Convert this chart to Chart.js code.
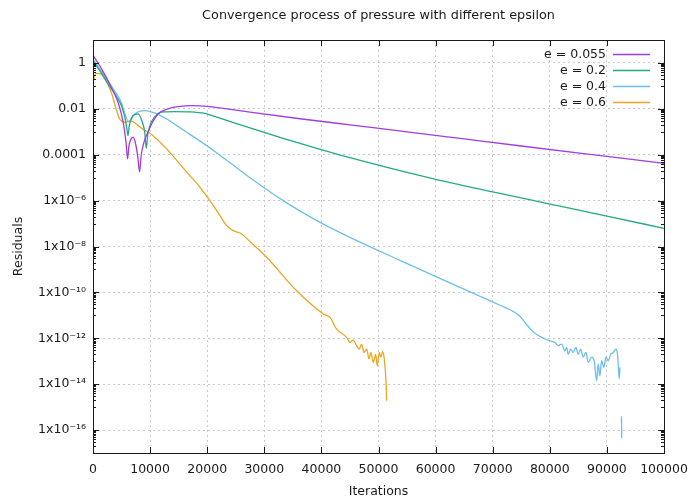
<!DOCTYPE html>
<html>
<head>
<meta charset="utf-8">
<title>Convergence process of pressure</title>
<script src="https://cdn.jsdelivr.net/npm/chart.js@4.4.1/dist/chart.umd.min.js"></script>
<style>
  html, body { margin: 0; padding: 0; background: #fff; }
</style>
</head>
<body>
<canvas id="residualChart" width="690" height="499"></canvas>
<script>
// residual history of the pressure solve for each epsilon
const chartTitle = 'Convergence process of pressure with different epsilon';
const seriesLabels = ['e = 0.055', 'e = 0.2', 'e = 0.4', 'e = 0.6'];
const seriesColors = ['#a13ddd', '#23a983', '#6cbfec', '#e9a622'];

const itersE055 = [0, 500, 1500, 3000, 4400, 5300, 5800, 6050, 6300, 6700, 7000, 7400, 7850, 8150, 8450, 9000, 9600,
  10500, 11400, 13100, 15000, 17000, 20500, 24000, 27500, 36250, 45000, 55000, 65000, 75000, 87500, 100000];
const resE055 = [2.2, 1.4, 0.55, 0.11, 1.9e-2, 2.5e-3, 3.2e-4, 6.6e-5, 2.5e-4, 5.0e-4, 5.8e-4, 3.5e-4, 7.9e-5, 1.8e-5, 1.0e-4, 4.0e-4, 9.3e-4,
  2.8e-3, 6.0e-3, 1.0e-2, 1.26e-2, 1.38e-2, 1.26e-2, 9.5e-3, 7.2e-3, 3.7e-3, 2.0e-3, 1.0e-3, 4.9e-4, 2.4e-4, 1.0e-4, 4.2e-5];

const itersE02 = [0, 800, 1750, 3000, 4200, 4960, 5600, 5950, 6130, 6350, 7000, 7900, 8600, 9050, 9330, 9600, 10200,
  11380, 12500, 14400, 17000, 19600, 21700, 27500, 33300, 39200, 45000, 52000, 60200, 70000, 80000, 90000, 100000];
const resE02 = [1.26, 0.63, 0.28, 8.9e-2, 3.2e-2, 1.4e-2, 4.0e-3, 1.26e-3, 6.8e-4, 1.8e-3, 5.0e-3, 6.0e-3, 2.8e-3, 1.0e-3, 1.9e-4, 7.9e-4, 2.6e-3,
  6.3e-3, 7.4e-3, 7.6e-3, 7.4e-3, 6.3e-3, 4.3e-3, 1.48e-3, 5.2e-4, 1.9e-4, 7.4e-5, 2.6e-5, 8.3e-6, 2.4e-6, 7.1e-7, 2.1e-7, 6.2e-8];

const itersE04 = [0, 1000, 2600, 4000, 4960, 5500, 6200, 6700, 7200, 8000, 9200, 10000, 11000, 12000, 13000, 14000, 15800,
  18700, 21700, 27500, 33300, 39200, 45000, 53760, 62500, 71270, 73900, 75000, 76000, 77100, 78500,
  80020, 80900, 81470, 82070, 82650, 82940, 83230, 83650, 84100, 84570, 84980, 85400, 85850, 86330, 86730, 87320,
  87780, 88200, 88480, 88780, 89070, 89480, 89830, 90230, 90650, 91110, 91580, 91810, 91980, 92160, 92280,
  92420, 92550, 92580, 92600];
const resE04 = [1.48, 0.63, 0.17, 5.0e-2, 1.9e-2, 7.1e-3, 2.8e-3, 3.5e-3, 5.6e-3, 7.6e-3, 8.3e-3, 7.6e-3, 6.3e-3, 4.8e-3, 3.5e-3, 2.4e-3, 1.2e-3,
  4.0e-4, 1.2e-4, 1.0e-5, 1.0e-6, 1.35e-7, 2.5e-8, 2.5e-9, 2.6e-10, 2.75e-11, 1.32e-11, 7.9e-12, 3.8e-12, 1.9e-12, 1.12e-12,
  7.8e-13, 6.6e-13, 4.8e-13, 5.6e-13, 2.8e-13, 4.0e-13, 2.0e-13, 3.4e-13, 2.4e-13, 4.0e-13, 2.0e-13, 3.4e-13, 1.5e-13, 2.4e-13, 8.9e-14, 1.5e-13,
  1.05e-13, 1.4e-14, 7.6e-14, 2.3e-14, 1.05e-13, 5.4e-14, 1.5e-13, 1.05e-13, 2.0e-13, 2.4e-13, 3.4e-13, 2.4e-13, 7.6e-14, 1.7e-14, 5.4e-14,
  null, 4.0e-16, 1.26e-16, 4.5e-17];

const itersE06 = [0, 120, 250, 600, 1450, 2300, 3200, 4000, 4680, 5550, 6700, 7880, 8800, 9980, 12900, 15810,
  18740, 20490, 22240, 23410, 24570, 26040, 27490, 30410, 35670, 40330, 41500, 42670, 44420,
  45000, 45580, 46170, 46630, 47050, 47450, 47930, 48330, 48680, 49080, 49500, 49780, 50130, 50430, 50730, 51010, 51310, 51430];
const resE06 = [0.40, 0.16, 0.28, 0.35, 0.32, 0.16, 5.2e-2, 1.1e-2, 3.6e-3, 2.6e-3, 3.0e-3, 1.9e-3, 1.26e-3, 8.7e-4, 1.8e-4, 2.6e-5,
  3.8e-6, 1.0e-6, 2.2e-7, 8.1e-8, 4.9e-8, 3.5e-8, 1.66e-8, 3.4e-9, 1.17e-10, 1.15e-11, 8.1e-12, 2.5e-12, 1.1e-12,
  6.6e-13, 8.3e-13, 4.8e-13, 3.4e-13, 5.6e-13, 2.4e-13, 3.4e-13, 1.26e-13, 2.4e-13, 8.9e-14, 2.0e-13, 6.3e-14, 2.4e-13, 1.5e-13, 2.7e-13, 1.26e-13, 1.4e-14, 1.9e-15];

const xTicks = [0, 10000, 20000, 30000, 40000, 50000, 60000, 70000, 80000, 90000, 100000];
const yTickExps = [0, -2, -4, -6, -8, -10, -12, -14, -16];

const allIters = [itersE055, itersE02, itersE04, itersE06];
const allRes = [resE055, resE02, resE04, resE06];

Chart.defaults.font.family = "'DejaVu Sans', sans-serif";
Chart.defaults.font.size = 12.5;
Chart.defaults.color = '#1a1a1a';

const supDigits = { '-': '\u207b', '0': '\u2070', '1': '\u00b9', '2': '\u00b2', '3': '\u00b3',
  '4': '\u2074', '5': '\u2075', '6': '\u2076', '7': '\u2077', '8': '\u2078', '9': '\u2079' };

function formatResidual(value) {
  const e = Math.round(Math.log10(value));
  if (e >= -4) return value.toFixed(-e > 0 ? -e : 0);
  return '1x10' + String(e).split('').map(c => supDigits[c]).join('');
}

// gnuplot style border with inward ticks on all four sides, title over the plot box
const framePlugin = {
  id: 'frame',
  afterDatasetsDraw(chart) {
    const { ctx, chartArea: a, scales: { x, y } } = chart;
    ctx.save();
    ctx.strokeStyle = '#1a1a1a';
    ctx.lineWidth = 1;
    ctx.beginPath();
    xTicks.forEach(v => {
      const px = Math.round(x.getPixelForValue(v)) + 0.5;
      ctx.moveTo(px, a.bottom); ctx.lineTo(px, a.bottom - 6);
      ctx.moveTo(px, a.top); ctx.lineTo(px, a.top + 6);
    });
    for (let e = -18; e <= 1; e++) {
      for (let k = 1; k <= 9; k++) {
        const v = k * Math.pow(10, e);
        if (v < y.min * 0.999 || v > y.max * 1.001) continue;
        let len = 0;
        if (k === 1 && yTickExps.includes(e)) len = 6;
        else if (Math.abs(e % 2) === 1) len = 3;
        if (!len) continue;
        const py = Math.round(y.getPixelForValue(v)) + 0.5;
        ctx.moveTo(a.left, py); ctx.lineTo(a.left + len, py);
        ctx.moveTo(a.right, py); ctx.lineTo(a.right - len, py);
      }
    }
    ctx.stroke();
    ctx.strokeRect(Math.round(a.left) + 0.5, Math.round(a.top) + 0.5,
      Math.round(a.right - a.left), Math.round(a.bottom - a.top));

    ctx.fillStyle = '#1a1a1a';
    ctx.font = "12.8px 'DejaVu Sans', sans-serif";
    ctx.textAlign = 'center';
    ctx.textBaseline = 'middle';
    ctx.fillText(chartTitle, (a.left + a.right) / 2, 16);
    ctx.restore();
  }
};

// key in the top right corner: text first, sample line after it
const keyPlugin = {
  id: 'key',
  afterDraw(chart) {
    const ctx = chart.ctx;
    ctx.save();
    ctx.font = "12.5px 'DejaVu Sans', sans-serif";
    ctx.textAlign = 'right';
    ctx.textBaseline = 'middle';
    chart.data.datasets.forEach((ds, i) => {
      const yy = 54.5 + i * 16;
      ctx.fillStyle = '#1a1a1a';
      ctx.fillText(ds.label, 606, yy);
      ctx.strokeStyle = ds.borderColor;
      ctx.lineWidth = 1.5;
      ctx.beginPath();
      ctx.moveTo(613, yy);
      ctx.lineTo(650, yy);
      ctx.stroke();
    });
    ctx.restore();
  }
};

const datasets = seriesLabels.map((label, i) => ({
  label: label,
  data: allIters[i].map((it, j) => ({ x: it, y: allRes[i][j] })),
  borderColor: seriesColors[i],
  backgroundColor: seriesColors[i],
  borderWidth: 1.3,
  pointRadius: 0,
  fill: false,
  spanGaps: false,
  cubicInterpolationMode: 'monotone'
}));

const gridColor = '#cacaca';

new Chart(document.getElementById('residualChart').getContext('2d'), {
  type: 'line',
  data: { datasets: datasets },
  options: {
    responsive: false,
    animation: false,
    layout: { padding: { top: 40, right: 26 } },
    plugins: {
      legend: { display: false },
      tooltip: { enabled: false },
      title: { display: false }
    },
    scales: {
      x: {
        type: 'linear',
        min: 0,
        max: 100000,
        afterBuildTicks: s => { s.ticks = xTicks.map(v => ({ value: v })); },
        afterFit: s => { s.height = 46; s.paddingLeft = 0; s.paddingRight = 0; },
        ticks: { padding: 9, maxRotation: 0, autoSkip: false, callback: v => String(v) },
        grid: { color: gridColor, drawTicks: false },
        border: { display: false, dash: [2, 3] },
        title: { display: true, text: 'Iterations', padding: { top: 0, bottom: 0 } }
      },
      y: {
        type: 'logarithmic',
        min: 1e-17,
        max: 10,
        afterBuildTicks: s => { s.ticks = yTickExps.map(e => ({ value: Math.pow(10, e) })); },
        afterFit: s => { s.width = 93; s.paddingTop = 0; s.paddingBottom = 0; },
        ticks: { padding: 7, autoSkip: false, callback: formatResidual },
        grid: { color: gridColor, drawTicks: false },
        border: { display: false, dash: [2, 3] },
        title: { display: true, text: 'Residuals', padding: { top: 11, bottom: 0 } }
      }
    }
  },
  plugins: [framePlugin, keyPlugin]
});
</script>
</body>
</html>
